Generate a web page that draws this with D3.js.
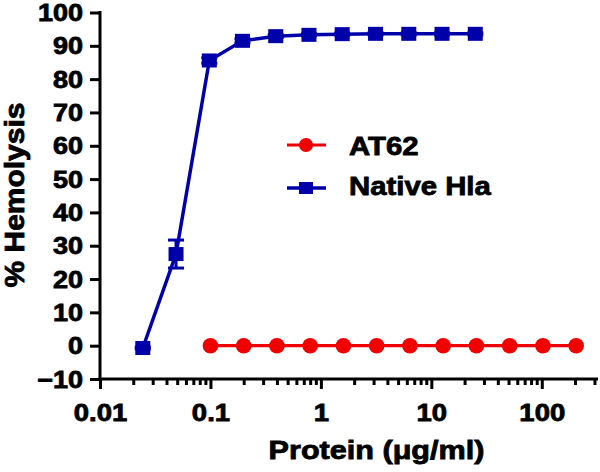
<!DOCTYPE html>
<html>
<head>
<meta charset="utf-8">
<script src="https://cdn.jsdelivr.net/npm/d3@7"></script>
<style>
  html, body { margin: 0; padding: 0; background: #fff; }
  svg { display: block; }
  text { font-family: Arial, "Liberation Sans", Helvetica, sans-serif; font-weight: bold; fill: #000; stroke: #000; stroke-width: 0.8px; }
</style>
</head>
<body>
<svg id="chart" width="600" height="472"></svg>
<script>
// ---- Data ----
const seriesNames = ["AT62", "Native Hla"];
const at62Conc = [0.1, 0.2, 0.4, 0.8, 1.6, 3.2, 6.4, 12.8, 25.6, 51.2, 102.4, 204.8];
const at62Hemolysis = [0, 0, 0, 0, 0, 0, 0, 0, 0, 0, 0, 0];
const hlaConc = [0.0244, 0.0488, 0.0977, 0.195, 0.39, 0.78, 1.56, 3.125, 6.25, 12.5, 25];
const hlaHemolysis = [-0.7, 27.5, 85.6, 91.5, 92.9, 93.3, 93.5, 93.6, 93.6, 93.6, 93.6];
const hlaError = [0.3, 4.2, 0.8, 0.6, 0.4, 0.3, 0.3, 0.3, 0.3, 0.3, 0.3];
const xMajorTicks = [0.01, 0.1, 1, 10, 100];
const xTickLabels = ["0.01", "0.1", "1", "10", "100"];
const yTicks = [-10, 0, 10, 20, 30, 40, 50, 60, 70, 80, 90, 100];
const xTitle = "Protein (\u03bcg/ml)";
const yTitle = "% Hemolysis";

const red = "#f00000";
const blue = "#0000aa";

const svg = d3.select("#chart");
const pLeft = 100, pRight = 597, pTop = 12.5, pBottom = 379;

const x = d3.scaleLog().domain([0.01, Math.pow(10, 2.5)]).range([pLeft, pRight]);
const y = d3.scaleLinear().domain([-10, 100]).range([pBottom, pTop]);

function stretch(sel, sx) {
  sel.each(function () {
    const t = d3.select(this);
    const tx = +t.attr("x") || 0;
    const ty = +t.attr("y") || 0;
    t.attr("x", 0).attr("y", 0)
     .attr("transform", `translate(${tx},${ty}) scale(${sx},1)`);
  });
}

// ---- Y axis ----
const yAxis = d3.axisLeft(y).tickValues(yTicks).tickSize(10).tickPadding(7).tickFormat(d3.format("d"));
const gy = svg.append("g").attr("transform", `translate(${pLeft},0)`).call(yAxis);
gy.select(".domain").remove();
gy.append("line").attr("x1", 0).attr("x2", 0).attr("y1", pTop - 1.5).attr("y2", pBottom + 1.5)
  .attr("stroke", "#000").attr("stroke-width", 3);
gy.selectAll(".tick line").attr("stroke", "#000").attr("stroke-width", 3);
gy.selectAll(".tick text").attr("font-size", 23.5).attr("dy", "0.34em").attr("fill", "#000");
stretch(gy.selectAll(".tick text"), 1.15);

// ---- X axis ----
const xAll = x.ticks();
const xAxis = d3.axisBottom(x).tickValues(xAll).tickSize(0)
  .tickFormat(d => { const i = xMajorTicks.findIndex(v => Math.abs(v - d) / v < 1e-6); return i >= 0 ? xTickLabels[i] : ""; });
const gx = svg.append("g").attr("transform", `translate(0,${pBottom})`).call(xAxis);
gx.select(".domain").remove();
gx.append("line").attr("x1", pLeft - 1.5).attr("x2", pRight + 1).attr("y1", 0).attr("y2", 0)
  .attr("stroke", "#000").attr("stroke-width", 3);
gx.selectAll(".tick line")
  .attr("y2", d => xMajorTicks.some(v => Math.abs(v - d) / v < 1e-6) ? 10 : 6)
  .attr("stroke", "#000").attr("stroke-width", 3);
gx.selectAll(".tick text").attr("font-size", 23.5).attr("y", 42).attr("dy", 0).attr("fill", "#000");
stretch(gx.selectAll(".tick text"), 1.17);

// ---- Lines ----
const line = d3.line().x(d => x(d[0])).y(d => y(d[1]));
const at62 = at62Conc.map((c, i) => [c, at62Hemolysis[i]]);
const hla = hlaConc.map((c, i) => [c, hlaHemolysis[i], hlaError[i]]);

svg.append("path").datum(at62).attr("d", line).attr("fill", "none").attr("stroke", red).attr("stroke-width", 3.2);
svg.append("path").datum(hla).attr("d", line).attr("fill", "none").attr("stroke", blue).attr("stroke-width", 3.5);

// error bars
const eb = svg.append("g").attr("stroke", blue).attr("stroke-width", 3);
hla.forEach(d => {
  const cx = x(d[0]);
  eb.append("line").attr("x1", cx).attr("x2", cx).attr("y1", y(d[1] + d[2])).attr("y2", y(d[1] - d[2]));
  eb.append("line").attr("x1", cx - 8).attr("x2", cx + 8).attr("y1", y(d[1] + d[2])).attr("y2", y(d[1] + d[2]));
  eb.append("line").attr("x1", cx - 8).attr("x2", cx + 8).attr("y1", y(d[1] - d[2])).attr("y2", y(d[1] - d[2]));
});

// markers
svg.append("g").selectAll("circle").data(at62).join("circle")
  .attr("cx", d => x(d[0])).attr("cy", d => y(d[1])).attr("r", 7.8).attr("fill", red);
svg.append("g").selectAll("rect").data(hla).join("rect")
  .attr("x", d => x(d[0]) - 7.5).attr("y", d => y(d[1]) - 7).attr("width", 15).attr("height", 14).attr("fill", blue);

// ---- Legend ----
const lg = svg.append("g");
lg.append("line").attr("x1", 287).attr("x2", 326).attr("y1", 145).attr("y2", 145).attr("stroke", red).attr("stroke-width", 3.2);
lg.append("circle").attr("cx", 306).attr("cy", 145).attr("r", 7).attr("fill", red);
lg.append("line").attr("x1", 287).attr("x2", 326).attr("y1", 188).attr("y2", 188).attr("stroke", blue).attr("stroke-width", 3.5);
lg.append("rect").attr("x", 299).attr("y", 182).attr("width", 14).attr("height", 12).attr("fill", blue);
lg.append("text").attr("x", 349).attr("y", 154.5).attr("font-size", 25.5).text(seriesNames[0]);
lg.append("text").attr("x", 349).attr("y", 194.5).attr("font-size", 25.5).text(seriesNames[1]);
stretch(lg.selectAll("text"), 1.15);

// ---- Axis titles ----
svg.append("text").attr("text-anchor", "middle").attr("font-size", 25.5)
  .attr("transform", `translate(376.5,459) scale(1.2,1)`).text(xTitle);
svg.append("text").attr("text-anchor", "middle").attr("font-size", 27)
  .attr("transform", `translate(24,195) rotate(-90) scale(1.11,1)`).text(yTitle);
</script>
</body>
</html>
